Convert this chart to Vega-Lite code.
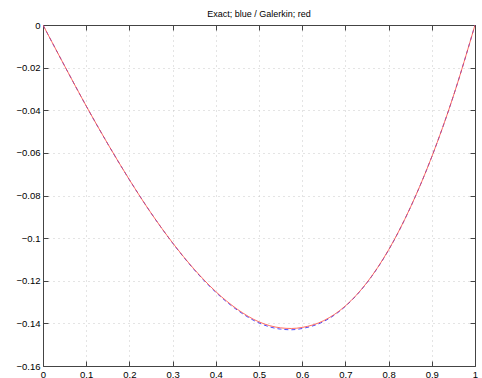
{
  "$schema": "https://vega.github.io/schema/vega-lite/v6.json",
  "width": 432,
  "height": 341,
  "autosize": "none",
  "padding": {"left": 43, "top": 25, "right": 7, "bottom": 12},
  "background": "white",
  "title": {"text": "Exact; blue / Galerkin; red", "font": "Liberation Sans", "fontSize": 9, "fontWeight": "normal", "color": "black", "offset": 1, "anchor": "middle"},
  "config": {
    "view": {"stroke": null},
    "axis": {
      "domainColor": "#444", "domainWidth": 1, "tickColor": "#444", "tickWidth": 1,
      "labelFont": "Liberation Sans", "labelFontSize": 9.5, "labelColor": "black",
      "labelFlush": false, "labelOverlap": false, "labelBound": false, "title": null,
      "gridColor": "#c8c8c8", "gridDash": [1, 4], "gridWidth": 1
    }
  },
  "data": {"values": [
    {"x": 0, "u": 0, "s": "Exact"},
    {"x": 0.05, "u": -0.0192, "s": "Exact"},
    {"x": 0.1, "u": -0.0380, "s": "Exact"},
    {"x": 0.15, "u": -0.0558, "s": "Exact"},
    {"x": 0.2, "u": -0.0726, "s": "Exact"},
    {"x": 0.25, "u": -0.0882, "s": "Exact"},
    {"x": 0.3, "u": -0.1023, "s": "Exact"},
    {"x": 0.35, "u": -0.1148, "s": "Exact"},
    {"x": 0.4, "u": -0.1254, "s": "Exact"},
    {"x": 0.45, "u": -0.1338, "s": "Exact"},
    {"x": 0.5, "u": -0.1398, "s": "Exact"},
    {"x": 0.55, "u": -0.1427, "s": "Exact"},
    {"x": 0.575, "u": -0.1430, "s": "Exact"},
    {"x": 0.6, "u": -0.1424, "s": "Exact"},
    {"x": 0.65, "u": -0.1391, "s": "Exact"},
    {"x": 0.7, "u": -0.1320, "s": "Exact"},
    {"x": 0.75, "u": -0.1209, "s": "Exact"},
    {"x": 0.8, "u": -0.1056, "s": "Exact"},
    {"x": 0.85, "u": -0.0858, "s": "Exact"},
    {"x": 0.9, "u": -0.0618, "s": "Exact"},
    {"x": 0.95, "u": -0.0333, "s": "Exact"},
    {"x": 1, "u": 0, "s": "Exact"},
    {"x": 0, "u": 0, "s": "Galerkin"},
    {"x": 0.05, "u": -0.0192, "s": "Galerkin"},
    {"x": 0.1, "u": -0.0380, "s": "Galerkin"},
    {"x": 0.15, "u": -0.0558, "s": "Galerkin"},
    {"x": 0.2, "u": -0.0726, "s": "Galerkin"},
    {"x": 0.25, "u": -0.0882, "s": "Galerkin"},
    {"x": 0.3, "u": -0.1022, "s": "Galerkin"},
    {"x": 0.35, "u": -0.1146, "s": "Galerkin"},
    {"x": 0.4, "u": -0.1251, "s": "Galerkin"},
    {"x": 0.45, "u": -0.1334, "s": "Galerkin"},
    {"x": 0.5, "u": -0.1393, "s": "Galerkin"},
    {"x": 0.55, "u": -0.1421, "s": "Galerkin"},
    {"x": 0.575, "u": -0.1424, "s": "Galerkin"},
    {"x": 0.6, "u": -0.1419, "s": "Galerkin"},
    {"x": 0.65, "u": -0.1387, "s": "Galerkin"},
    {"x": 0.7, "u": -0.1318, "s": "Galerkin"},
    {"x": 0.75, "u": -0.1208, "s": "Galerkin"},
    {"x": 0.8, "u": -0.1055, "s": "Galerkin"},
    {"x": 0.85, "u": -0.0858, "s": "Galerkin"},
    {"x": 0.9, "u": -0.0618, "s": "Galerkin"},
    {"x": 0.95, "u": -0.0333, "s": "Galerkin"},
    {"x": 1, "u": 0, "s": "Galerkin"}
  ]},
  "layer": [
    {
      "transform": [{"filter": "datum.s == 'Exact'"}],
      "mark": {"type": "line", "color": "#4a4aff", "strokeWidth": 1, "strokeDash": [4, 3], "interpolate": "monotone", "clip": true},
      "encoding": {
        "x": {"field": "x", "type": "quantitative", "scale": {"domain": [0, 1], "nice": false, "zero": false},
          "axis": {"orient": "bottom", "values": [0, 0.1, 0.2, 0.3, 0.4, 0.5, 0.6, 0.7, 0.8, 0.9, 1], "format": "~g", "grid": true, "tickSize": -5, "labelPadding": 8}},
        "y": {"field": "u", "type": "quantitative", "scale": {"domain": [-0.16, 0], "nice": false, "zero": false},
          "axis": {"orient": "left", "values": [0, -0.02, -0.04, -0.06, -0.08, -0.1, -0.12, -0.14, -0.16], "format": "~g", "grid": true, "tickSize": -5, "labelPadding": 8}}
      }
    },
    {
      "transform": [{"filter": "datum.s == 'Galerkin'"}],
      "mark": {"type": "line", "color": "#ff4a3a", "strokeWidth": 0.8, "interpolate": "monotone", "clip": true},
      "encoding": {
        "x": {"field": "x", "type": "quantitative", "scale": {"domain": [0, 1], "nice": false, "zero": false},
          "axis": {"orient": "top", "values": [0, 0.1, 0.2, 0.3, 0.4, 0.5, 0.6, 0.7, 0.8, 0.9, 1], "labels": false, "grid": false, "tickSize": -5}},
        "y": {"field": "u", "type": "quantitative", "scale": {"domain": [-0.16, 0], "nice": false, "zero": false},
          "axis": {"orient": "right", "values": [0, -0.02, -0.04, -0.06, -0.08, -0.1, -0.12, -0.14, -0.16], "labels": false, "grid": false, "tickSize": -5}}
      }
    }
  ],
  "resolve": {"axis": {"x": "independent", "y": "independent"}}
}
